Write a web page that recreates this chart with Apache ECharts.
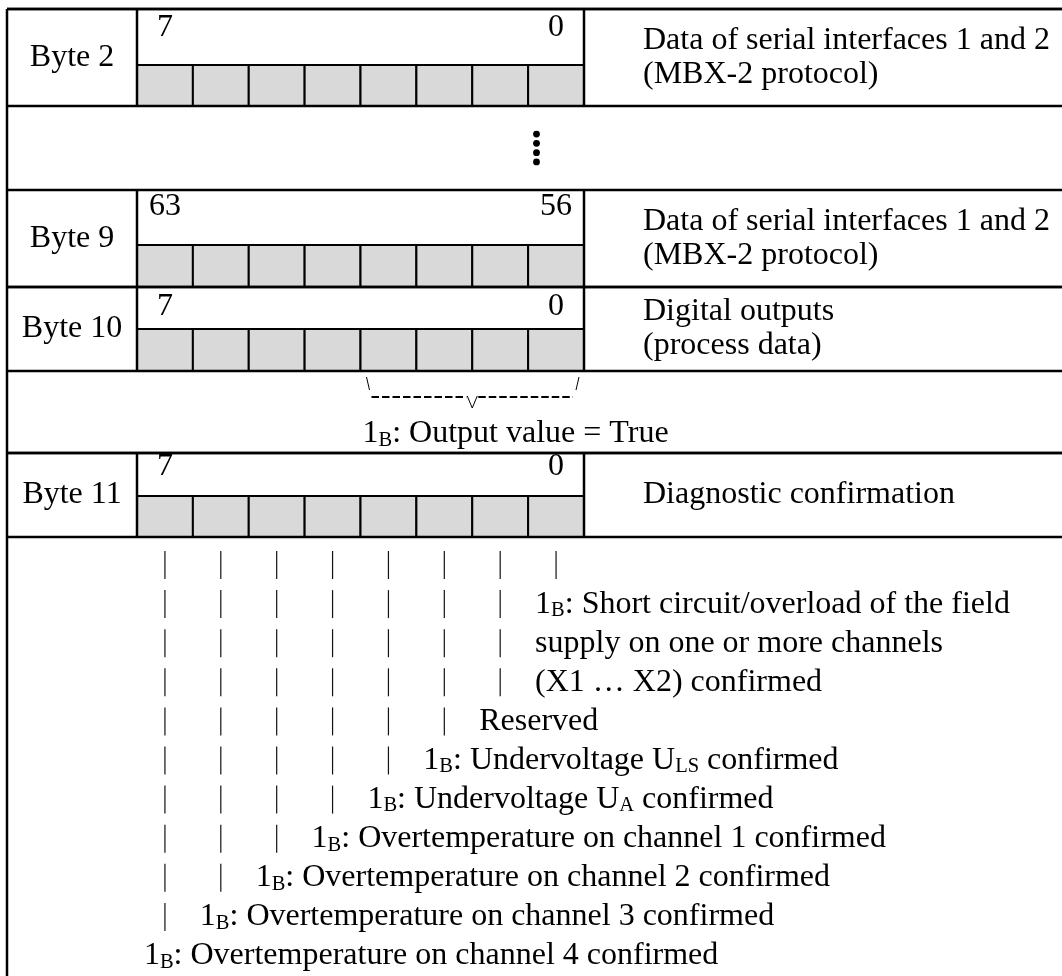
<!DOCTYPE html>
<html><head><meta charset="utf-8">
<script src="https://cdn.jsdelivr.net/npm/echarts@6/dist/echarts.min.js"></script>
<style>html,body{margin:0;padding:0;background:#fff}#c{width:1062px;height:976px}</style>
</head><body><div id="c"></div>
<script>
// ---------------- data ----------------
const byteLabels = ['Byte 2', 'Byte 9', 'Byte 10', 'Byte 11'];
const highBitLabels = ['7', '63', '7', '7'];
const lowBitLabels = ['0', '56', '0', '0'];
const byteDescriptions = [
  ['Data of serial interfaces 1 and 2', '(MBX-2 protocol)'],
  ['Data of serial interfaces 1 and 2', '(MBX-2 protocol)'],
  ['Digital outputs', '(process data)'],
  ['Diagnostic confirmation']
];
const bitsPerByte = 8;
const ellipsisDots = 4;
const outputBitRange = [3, 0];               // bits of Byte 10 covered by the note
const outputNote = '1~B~: Output value = True';
const diagnosticBits = [0, 1, 2, 3, 4, 5, 6, 7];
const diagnosticTexts = [
  ['1~B~: Short circuit/overload of the field', 'supply on one or more channels', '(X1 \u2026 X2) confirmed'],
  ['Reserved'],
  ['1~B~: Undervoltage U~LS~ confirmed'],
  ['1~B~: Undervoltage U~A~ confirmed'],
  ['1~B~: Overtemperature on channel 1 confirmed'],
  ['1~B~: Overtemperature on channel 2 confirmed'],
  ['1~B~: Overtemperature on channel 3 confirmed'],
  ['1~B~: Overtemperature on channel 4 confirmed']
];

// ---------------- layout ----------------
const W = 1062, H = 976;
const L = {
  tableLeft: 7, tableRight: 1066, tableTop: 9,
  byteColRight: 137, bitW: 55.875,
  rowTop: [9, 190, 287, 453], rowBottom: [106, 287, 371, 537],
  grayTop: [65, 245, 329, 496], numberY: [28, 207, 307, 467],
  descX: 643, descLineH: 34,
  ellipsisRow: [106, 190], dotGap: 9.3, dotR: 3.4,
  noteRow: [371, 453], slashTop: 377, slashBottom: 390, dashY: 397, vBottom: 408, noteY: 434, noteShift: 2,
  listTop: 565, listLineH: 39.1, listTextShift: -21, barHalf: 14,
  font: 32, subFont: 20.5, stretch: 1.0,
  gray: '#d9d9d9', thick: 2.5, thin: 2
};
const FONT = '"Liberation Serif", "Times New Roman", Times, serif';
const toU = px => (px - L.byteColRight) / L.bitW;
const uMin = toU(0), uMax = toU(W);
const bitCenterU = b => bitsPerByte - 0.5 - b;

function richify(s) {
  return s.split('~').map((p, i) => p === '' ? '' : (i % 2 ? '{s|' + p + '}' : '{n|' + p + '}')).join('');
}
function txt(p, s, align) {
  return {
    type: 'text', x: p[0], y: p[1], scaleX: L.stretch, silent: true,
    style: {
      text: richify(s), x: 0, y: 0, align: align, verticalAlign: 'middle',
      rich: {
        n: { fontFamily: FONT, fontSize: L.font, fill: '#000', lineHeight: 34 },
        s: { fontFamily: FONT, fontSize: L.subFont, fill: '#000', lineHeight: 19, verticalAlign: 'bottom' }
      }
    }
  };
}
function seg(api, u1, y1, u2, y2, w, extra) {
  const a = api.coord([u1, y1]), b = api.coord([u2, y2]);
  return { type: 'line', silent: true, shape: { x1: a[0], y1: a[1], x2: b[0], y2: b[1] },
    style: Object.assign({ stroke: '#000', lineWidth: w }, extra || {}) };
}

// ------------- series -------------
const frameSeries = {
  type: 'custom', coordinateSystem: 'cartesian2d', clip: false, silent: true,
  data: [[0, 0]],
  renderItem: (params, api) => {
    const ch = [];
    ch.push(seg(api, toU(L.tableLeft), L.tableTop, toU(L.tableLeft), H, L.thick));
    ch.push(seg(api, toU(L.tableLeft), L.tableTop, uMax, L.tableTop, L.thick));
    // ellipsis row
    const cx = (L.tableLeft + L.tableRight) / 2;
    const cy = (L.ellipsisRow[0] + L.ellipsisRow[1]) / 2;
    for (let k = 0; k < ellipsisDots; k++) {
      const p = api.coord([toU(cx), cy + (k - (ellipsisDots - 1) / 2) * L.dotGap]);
      ch.push({ type: 'circle', shape: { cx: p[0], cy: p[1], r: L.dotR }, style: { fill: '#000' } });
    }
    // note row: bracket over the output bits
    const u0 = bitsPerByte - 1 - outputBitRange[0], u1 = bitsPerByte - outputBitRange[1];
    const x0 = L.byteColRight + u0 * L.bitW, x1 = L.byteColRight + u1 * L.bitW, xm = (x0 + x1) / 2;
    ch.push(seg(api, toU(x0 + 6), L.slashTop, toU(x0 + 9), L.slashBottom, 1));
    ch.push(seg(api, toU(x1 - 5), L.slashTop, toU(x1 - 8), L.slashBottom, 1));
    ch.push(seg(api, toU(x0 + 11), L.dashY, toU(xm - 6), L.dashY, 2.2, { lineDash: [7.5, 3] }));
    ch.push(seg(api, toU(xm + 6), L.dashY, toU(x1 - 11), L.dashY, 2.2, { lineDash: [7.5, 3] }));
    const va = api.coord([toU(xm - 5), L.dashY - 1]), vb = api.coord([toU(xm), L.vBottom]), vc = api.coord([toU(xm + 5), L.dashY - 1]);
    ch.push({ type: 'polyline', shape: { points: [va, vb, vc] }, style: { stroke: '#000', lineWidth: 1, fill: null } });
    ch.push(txt(api.coord([toU(x0 + L.noteShift), L.noteY]), outputNote, 'left'));
    ch.push(seg(api, toU(L.tableLeft), L.noteRow[1], uMax, L.noteRow[1], L.thick));
    return { type: 'group', children: ch };
  }
};

const byteSeries = {
  type: 'custom', coordinateSystem: 'cartesian2d', clip: false, silent: true,
  data: byteLabels.map((_, i) => [i, 0]),
  renderItem: (params, api) => {
    const i = params.dataIndex, top = L.rowTop[i], bot = L.rowBottom[i], gt = L.grayTop[i];
    const ch = [];
    for (let k = 0; k < bitsPerByte; k++) {
      const a = api.coord([k, gt]), b = api.coord([k + 1, bot]);
      ch.push({ type: 'rect', shape: { x: a[0], y: a[1], width: b[0] - a[0], height: b[1] - a[1] },
        style: { fill: L.gray, stroke: '#000', lineWidth: L.thin } });
    }
    ch.push(seg(api, 0, gt, bitsPerByte, gt, 1));
    ch.push(seg(api, toU(L.tableLeft), top, uMax, top, L.thick));
    ch.push(seg(api, toU(L.tableLeft), bot, uMax, bot, L.thick));
    ch.push(seg(api, 0, top, 0, bot, L.thick));
    ch.push(seg(api, bitsPerByte, top, bitsPerByte, bot, L.thick));
    const mid = (top + bot) / 2;
    ch.push(txt(api.coord([toU((L.tableLeft + L.byteColRight) / 2), mid]), byteLabels[i], 'center'));
    ch.push(txt(api.coord([bitCenterU(bitsPerByte - 1), L.numberY[i]]), highBitLabels[i], 'center'));
    ch.push(txt(api.coord([bitCenterU(0), L.numberY[i]]), lowBitLabels[i], 'center'));
    const lines = byteDescriptions[i];
    lines.forEach((s, j) => {
      const y = mid + (j - (lines.length - 1) / 2) * L.descLineH;
      ch.push(txt(api.coord([toU(L.descX), y]), s, 'left'));
    });
    return { type: 'group', children: ch };
  }
};

// start line of each bit's description in the list below Byte 11
const startLine = [];
{ let acc = 1; diagnosticBits.forEach((b, i) => { startLine[i] = acc; acc += diagnosticTexts[i].length; }); }

const listSeries = {
  type: 'custom', coordinateSystem: 'cartesian2d', clip: false, silent: true,
  data: diagnosticBits.map(b => [bitCenterU(b), 0]),
  renderItem: (params, api) => {
    const i = params.dataIndex, b = diagnosticBits[i], u = bitCenterU(b);
    const ch = [];
    for (let k = 0; k < startLine[i]; k++) {
      const y = L.listTop + k * L.listLineH;
      ch.push(seg(api, u, y - L.barHalf, u, y + L.barHalf, 1.2, { stroke: '#111' }));
    }
    diagnosticTexts[i].forEach((s, j) => {
      const y = L.listTop + (startLine[i] + j) * L.listLineH;
      const p = api.coord([u, y]);
      ch.push(txt([p[0] + L.listTextShift, p[1]], s, 'left'));
    });
    return { type: 'group', children: ch };
  }
};

const chart = echarts.init(document.getElementById('c'), null, { renderer: 'canvas', width: W, height: H });
chart.setOption({
  animation: false,
  backgroundColor: '#fff',
  grid: { left: 0, right: 0, top: 0, bottom: 0 },
  xAxis: { type: 'value', min: uMin, max: uMax, show: false },
  yAxis: { type: 'value', min: 0, max: H, inverse: true, show: false },
  series: [frameSeries, byteSeries, listSeries]
});
</script></body></html>
